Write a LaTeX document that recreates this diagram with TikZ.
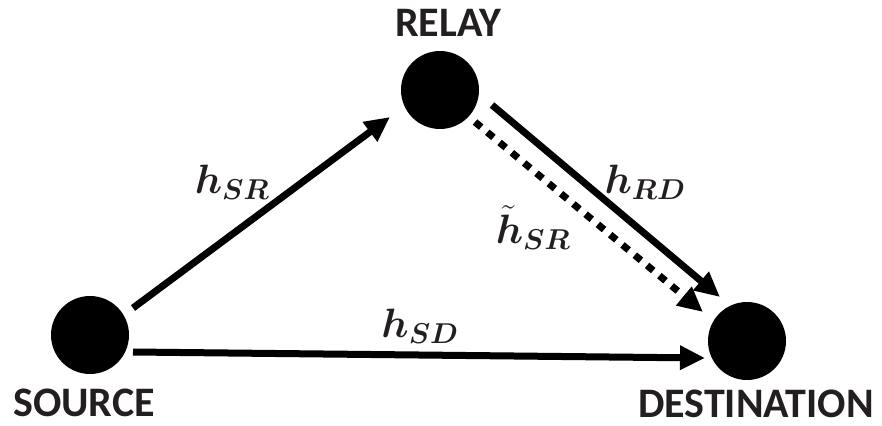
\RequirePackage{fix-cm}
\documentclass[tikz,border=0pt]{standalone}
\usepackage{fontspec}
\usepackage{bm}
\setmainfont{Carlito}
\usetikzlibrary{arrows.meta,calc}
\definecolor{txt}{HTML}{231F20}
\begin{document}
\begin{tikzpicture}[x=1pt,y=-1pt,
  station/.style={circle,fill=black,minimum size=78pt,inner sep=0pt,outer sep=0pt},
  caption/.style={font=\fontsize{42}{42}\selectfont\bfseries,text=txt,inner sep=0pt},
  chan/.style={font=\fontsize{41}{41}\selectfont,text=txt,inner sep=0pt},
  link/.style={line width=7pt,-{Triangle[length=25pt,width=23pt]}},
  dotlink/.style={line width=7pt,dash pattern=on 8pt off 8pt,-{Triangle[length=25pt,width=23pt]}}]
\useasboundingbox (0,0) rectangle (882,425);
\node[station] (S) at (90,335) {};
\node[station] (R) at (440,90) {};
\node[station] (D) at (747,341) {};
\node[caption] (Sl) at (84,403) {SOURCE};
\node[caption] (Rl) at (448,23) {RELAY};
\node[caption] (Dl) at (756,404) {DESTINATION};
\draw[link] ([shift={(43,-27)}]S.center) -- ([shift={(-50,27)}]R.center);
\draw[link] ([shift={(43,17)}]S.center) -- ([shift={(-42,17)}]D.center);
\draw[link] ([shift={(52,15)}]R.center) -- ([shift={(-27,-44)}]D.center);
\draw[dotlink] ([shift={(35,32)}]R.center) -- ([shift={(-44,-29)}]D.center);
\node[chan] (hsr) at (232,182) {$\bm{h}_{\bm{SR}}$};
\node[chan] (hrd) at (645,182) {$\bm{h}_{\bm{RD}}$};
\node[chan] (hsrt) at (533,228) {$\tilde{\bm{h}}_{\bm{SR}}$};
\node[chan] (hsd) at (420,326) {$\bm{h}_{\bm{SD}}$};
\end{tikzpicture}
\end{document}
